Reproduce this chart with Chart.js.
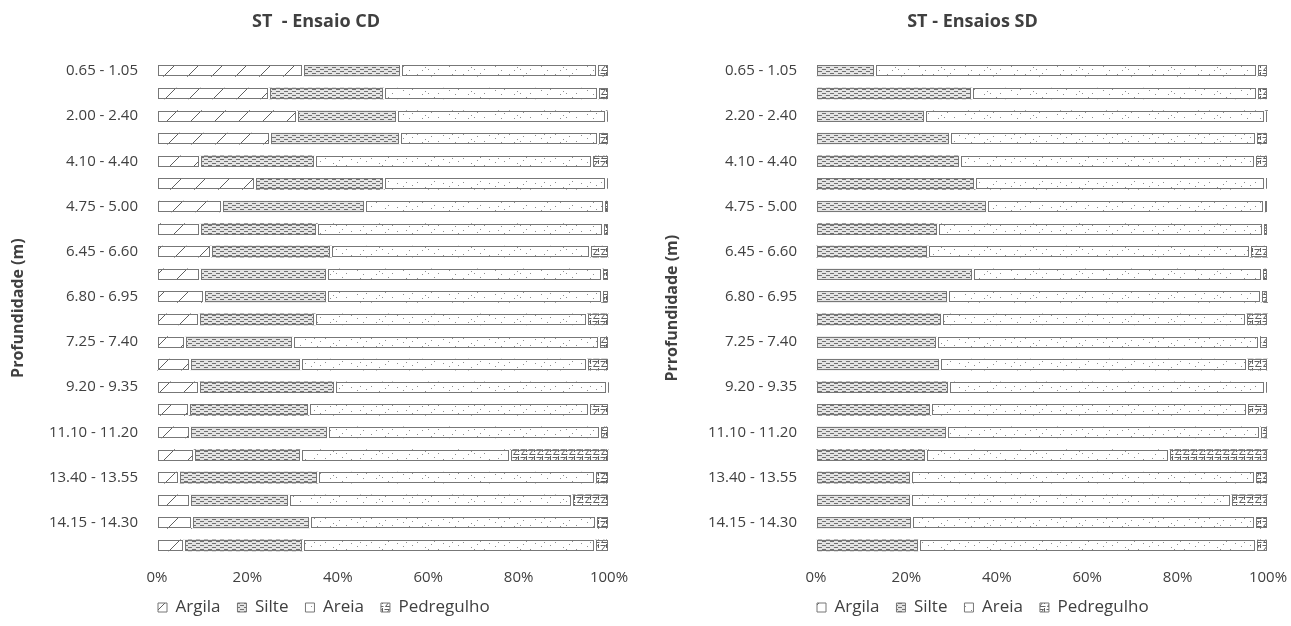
<!DOCTYPE html>
<html>
<head>
<meta charset="utf-8">
<script src="https://cdn.jsdelivr.net/npm/chart.js@4.4.1/dist/chart.umd.min.js"></script>
<style>
  body { margin: 0; background: #fff; }
  #wrap { position: relative; width: 1291px; height: 626px; }
  .box { position: absolute; top: 0; }
</style>
</head>
<body>
<div id="wrap">
  <div class="box" style="left:0px"><canvas id="cd" width="632" height="626"></canvas></div>
  <div class="box" style="left:654px"><canvas id="sd" width="637" height="626"></canvas></div>
</div>
<script>
// depth labels (only every other bar is labelled)
var depthsCD = ["0.65 - 1.05", "", "2.00 - 2.40", "", "4.10 - 4.40", "", "4.75 - 5.00", "",
                "6.45 - 6.60", "", "6.80 - 6.95", "", "7.25 - 7.40", "", "9.20 - 9.35", "",
                "11.10 - 11.20", "", "13.40 - 13.55", "", "14.15 - 14.30", ""];
var depthsSD = ["0.65 - 1.05", "", "2.20 - 2.40", "", "4.10 - 4.40", "", "4.75 - 5.00", "",
                "6.45 - 6.60", "", "6.80 - 6.95", "", "7.25 - 7.40", "", "9.20 - 9.35", "",
                "11.10 - 11.20", "", "13.40 - 13.55", "", "14.15 - 14.30", ""];

var fractions = ["Argila", "Silte", "Areia", "Pedregulho"];
var xTicks = [0, 20, 40, 60, 80, 100];

// Ensaio CD (%)
var argilaCD = [32.3, 24.8, 31.0, 25.1, 9.5, 21.7, 14.4, 9.5, 12.0, 9.5, 10.4,
                9.2, 6.1, 7.3, 9.2, 7.0, 7.3, 8.1, 4.8, 7.2, 7.7, 5.9];
var silteCD  = [21.7, 25.5, 22.2, 28.6, 25.4, 28.6, 31.6, 26.0, 26.6, 28.0, 27.1,
                25.8, 23.9, 24.6, 30.1, 26.6, 30.6, 23.7, 30.8, 22.1, 26.1, 26.3];
var areiaCD  = [43.3, 47.3, 46.1, 43.9, 61.4, 49.0, 52.8, 63.1, 57.2, 60.9, 60.9,
                60.2, 67.7, 63.3, 60.2, 61.9, 60.2, 46.3, 61.3, 62.6, 63.4, 64.7];
var pedCD    = [2.7, 2.4, 0.7, 2.4, 3.7, 0.7, 1.2, 1.4, 4.2, 1.6, 1.6,
                4.8, 2.3, 4.8, 0.5, 4.5, 1.9, 21.9, 3.1, 8.1, 2.8, 3.1];

// Ensaios SD (%)
var argilaSD = [0, 0, 0, 0, 0, 0, 0, 0, 0, 0, 0,
                0, 0, 0, 0, 0, 0, 0, 0, 0, 0, 0];
var silteSD  = [13.0, 34.5, 24.2, 29.6, 31.8, 35.2, 37.8, 26.9, 24.7, 34.8, 29.1,
                27.8, 26.7, 27.5, 29.4, 25.4, 28.9, 24.4, 21.1, 21.1, 21.3, 22.7];
var areiaSD  = [84.6, 63.1, 75.1, 67.7, 65.3, 64.1, 61.3, 71.9, 71.3, 63.9, 69.3,
                67.3, 71.3, 67.8, 70.0, 69.9, 69.3, 53.8, 76.0, 70.7, 75.8, 74.6];
var pedSD    = [2.4, 2.4, 0.7, 2.7, 2.9, 0.7, 0.9, 1.2, 4.0, 1.3, 1.6,
                4.9, 2.0, 4.7, 0.6, 4.7, 1.8, 21.8, 2.9, 8.2, 2.9, 2.7];

var FONT = "'Open Sans', 'Liberation Sans', sans-serif";
var TXT = '#404040';
var EDGE = '#777';

// hatch fills that mimic the printed textures
function makePattern(kind) {
  var c = document.createElement('canvas');
  var g = c.getContext('2d');
  if (kind === 'Argila') {
    c.width = 24; c.height = 24;
    g.fillStyle = '#fff'; g.fillRect(0, 0, 24, 24);
    g.strokeStyle = '#606060'; g.lineWidth = 1;
    [-24, 0, 24].forEach(function (k) {
      g.beginPath(); g.moveTo(k, 24); g.lineTo(k + 24, 0); g.stroke();
    });
  } else if (kind === 'Silte') {
    c.width = 8; c.height = 4;
    g.fillStyle = '#e4e4e4'; g.fillRect(0, 0, 8, 4);
    g.fillStyle = '#707070';
    g.fillRect(0, 1, 4, 1);
    g.fillRect(4, 3, 4, 1);
  } else if (kind === 'Areia') {
    c.width = 46; c.height = 12;
    g.fillStyle = '#fff'; g.fillRect(0, 0, 46, 12);
    g.fillStyle = '#8e8e8e';
    [[3, 2], [11, 7], [17, 4], [24, 9], [29, 3], [35, 6], [41, 10], [8, 10], [20, 1], [38, 2], [14, 9], [44, 5]]
      .forEach(function (p) { g.fillRect(p[0], p[1], 1, 1); });
  } else {
    c.width = 8; c.height = 8;
    g.fillStyle = '#fff'; g.fillRect(0, 0, 8, 8);
    g.strokeStyle = '#606060'; g.lineWidth = 1;
    g.beginPath();
    g.moveTo(0.5, 1.5); g.lineTo(5.5, 1.5); g.lineTo(1.5, 6.5); g.lineTo(7.5, 6.5);
    g.moveTo(6.5, 0); g.lineTo(6.5, 4);
    g.stroke();
  }
  return g.createPattern(c, 'repeat');
}

// each segment is outlined on its own, leaving a small white gap between segments
var segmentOutline = {
  id: 'segmentOutline',
  afterDatasetsDraw: function (chart) {
    var ctx = chart.ctx;
    ctx.save();
    chart.data.datasets.forEach(function (ds, i) {
      chart.getDatasetMeta(i).data.forEach(function (el) {
        var p = el.getProps(['x', 'y', 'base', 'height'], true);
        var l = Math.round(Math.min(p.x, p.base)), r = Math.round(Math.max(p.x, p.base));
        if (r - l < 1) return;
        var t = Math.round(p.y - p.height / 2), b = Math.round(p.y + p.height / 2);
        ctx.fillStyle = '#fff';
        ctx.fillRect(l, t, 1, b - t);
        ctx.fillRect(r - 1, t, 1, b - t);
        ctx.strokeStyle = EDGE;
        ctx.lineWidth = 1;
        ctx.strokeRect(l + 1.5, t + 0.5, Math.max(r - l - 3, 0), b - t - 1);
      });
    });
    ctx.restore();
  }
};

// legend starts flush with the plot area, like the original
var LEG_PAD = 17;
var legendNudge = {
  id: 'legendNudge',
  afterLayout: function (chart) {
    if (chart.legend) { chart.legend.left -= LEG_PAD - 1; chart.legend.right -= LEG_PAD - 1; }
  }
};

function buildChart(id, title, yTitle, labels, series, yWidth, rightPad) {
  var datasets = fractions.map(function (name, i) {
    return {
      label: name,
      data: series[i],
      backgroundColor: makePattern(name),
      borderWidth: 0,
      barThickness: 11
    };
  });
  return new Chart(document.getElementById(id), {
    type: 'bar',
    data: { labels: labels, datasets: datasets },
    plugins: [segmentOutline, legendNudge],
    options: {
      indexAxis: 'y',
      responsive: false,
      animation: false,
      layout: { padding: 0 },
      scales: {
        x: {
          stacked: true,
          min: 0, max: 100,
          afterBuildTicks: function (s) { s.ticks = xTicks.map(function (v) { return { value: v }; }); },
          afterFit: function (s) { s.height = 25.3; s.paddingLeft = 0; s.paddingRight = rightPad; },
          grid: { display: false, drawTicks: false },
          border: { display: false },
          // mirror avoids the label clip of the short axis box; negative padding puts labels back below
          ticks: { mirror: true, padding: -30, color: TXT, font: { family: FONT, size: 15 },
                   callback: function (v) { return v + '%'; } }
        },
        y: {
          stacked: true,
          grid: { display: false, drawTicks: false },
          border: { display: false },
          afterFit: function (s) { s.width = yWidth; },
          ticks: { autoSkip: false, padding: 19, color: TXT, font: { family: FONT, size: 15 } },
          title: { display: true, text: yTitle, color: TXT, padding: 9,
                   font: { family: FONT, size: 16, weight: 'bold' } }
        }
      },
      plugins: {
        title: { display: true, text: title, color: TXT, padding: { top: 11, bottom: 27 },
                 font: { family: FONT, size: 18, weight: 'bold' } },
        legend: {
          position: 'bottom', align: 'start', fullSize: false,
          labels: {
            boxWidth: 9, boxHeight: 9, padding: LEG_PAD, color: TXT,
            font: { family: FONT, size: 17 },
            generateLabels: function (chart) {
              var items = Chart.defaults.plugins.legend.labels.generateLabels(chart);
              items.forEach(function (it) { it.strokeStyle = EDGE; it.lineWidth = 1; });
              return items;
            }
          }
        },
        tooltip: { enabled: false }
      }
    }
  });
}

buildChart('cd', 'ST  - Ensaio CD', 'Profundidade (m)', depthsCD,
           [argilaCD, silteCD, areiaCD, pedCD], 157, 23);
buildChart('sd', 'ST - Ensaios SD', 'Prrofundidade (m)', depthsSD,
           [argilaSD, silteSD, areiaSD, pedSD], 162, 23);
</script>
</body>
</html>
